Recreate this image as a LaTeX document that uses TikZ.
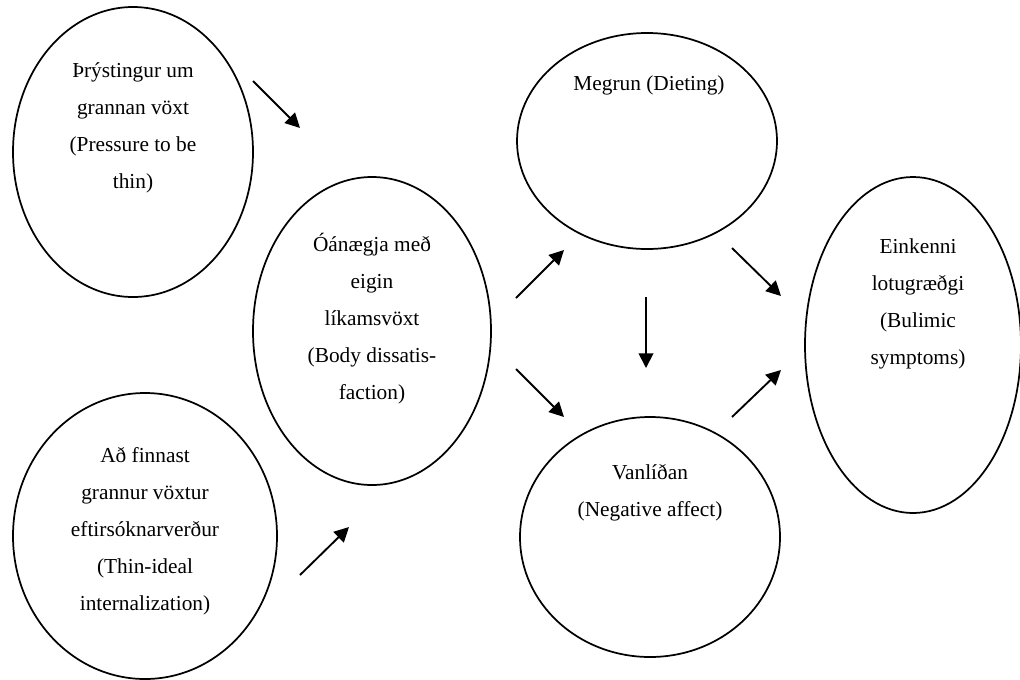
\documentclass[tikz,border=0pt]{standalone}
\usepackage{fontspec}
\setmainfont{Liberation Serif}
\usetikzlibrary{shapes.geometric,arrows.meta}
\begin{document}
\begin{tikzpicture}[x=0.75pt,y=-0.75pt,
  bubble/.style={draw=black, line width=1.3pt, ellipse, inner sep=0pt, outer sep=0pt},
  txt/.style={align=center, font=\fontsize{16pt}{27.75pt}\selectfont, inner sep=0pt},
  link/.style={line width=1.4pt, -{Triangle[length=11pt,width=11pt]}}]
\useasboundingbox (0,0) rectangle (1020,679);
% ellipses
\node[bubble, minimum width=180pt, minimum height=217.5pt] (e1) at (133,152) {};
\node[bubble, minimum width=198pt, minimum height=214.5pt] (e2) at (145,536) {};
\node[bubble, minimum width=178.5pt, minimum height=231pt] (e3) at (372,331) {};
\node[bubble, minimum width=195pt, minimum height=162pt] (e4) at (647,141) {};
\node[bubble, minimum width=195pt, minimum height=180pt] (e5) at (650,537) {};
\node[bubble, minimum width=162pt, minimum height=252pt] (e6) at (913,345) {};
% texts
\node[txt] (t1) at (133,127.5) {Þrýstingur um\\grannan vöxt\\(Pressure to be\\thin)};
\node[txt] (t2) at (145,531) {Að finnast\\grannur vöxtur\\eftirsóknarverður\\(Thin-ideal\\internalization)};
\node[txt] (t3) at (372,318.5) {Óánægja með\\eigin\\líkamsvöxt\\(Body dissatis-\\faction)};
\node[txt] (t4) at (649,85) {Megrun (Dieting)};
\node[txt] (t5) at (650,492.5) {Vanlíðan\\(Negative affect)};
\node[txt] (t6) at (918,304) {Einkenni\\lotugræðgi\\(Bulimic\\symptoms)};
% arrow ends
\coordinate (a1s) at (253,81);  \coordinate (a1e) at (300,128);
\coordinate (a2s) at (300,575); \coordinate (a2e) at (349,527);
\coordinate (a3s) at (516,298); \coordinate (a3e) at (564,250);
\coordinate (a4s) at (516,369); \coordinate (a4e) at (564,417);
\coordinate (a5s) at (646,297); \coordinate (a5e) at (646,368);
\coordinate (a6s) at (732,248); \coordinate (a6e) at (781,296);
\coordinate (a7s) at (732,417); \coordinate (a7e) at (781,370);
\draw[link] (a1s) -- (a1e);
\draw[link] (a2s) -- (a2e);
\draw[link] (a3s) -- (a3e);
\draw[link] (a4s) -- (a4e);
\draw[link] (a5s) -- (a5e);
\draw[link] (a6s) -- (a6e);
\draw[link] (a7s) -- (a7e);
\end{tikzpicture}
\end{document}
